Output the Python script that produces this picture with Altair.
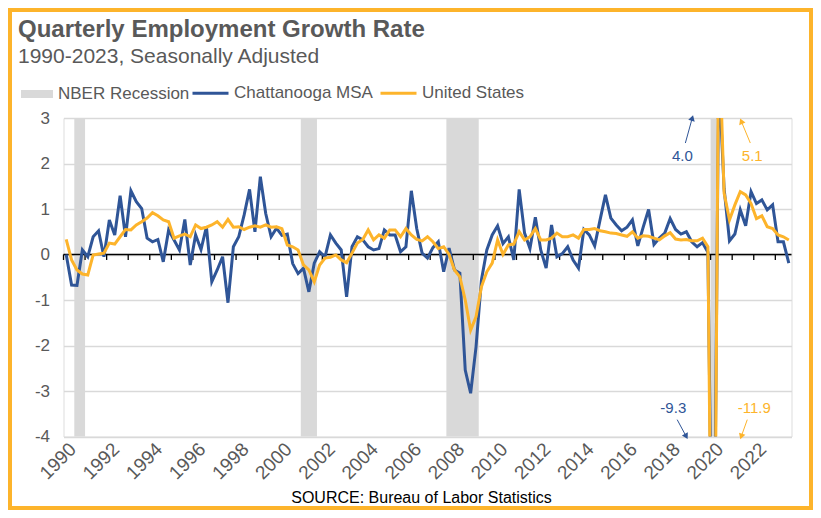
import altair as alt
import pandas as pd

# ---------------- data ----------------
first_quarter_start = 1990.25  # 1990Q2, quarterly series through 2023Q4

chattanooga = [
    0.00, -0.67, -0.68, 0.10, -0.05, 0.39, 0.52, -0.05, 0.76, 0.43,
    1.29, 0.39, 1.40, 1.16, 1.01, 0.36, 0.28, 0.33, -0.16, 0.54,
    0.32, 0.10, 0.77, -0.23, 0.43, 0.11, 0.61, -0.60, -0.34, -0.05,
    -1.06, 0.17, 0.39, 0.87, 1.43, 0.50, 1.71, 0.90, 0.39, 0.58,
    0.42, 0.45, -0.20, -0.42, -0.30, -0.82, -0.19, 0.06, -0.05, 0.43,
    0.25, 0.10, -0.93, 0.17, 0.39, 0.32, 0.17, 0.10, 0.13, 0.54,
    0.43, 0.43, 0.06, 0.17, 1.40, 0.57, 0.03, -0.08, 0.15, 0.28,
    -0.38, 0.14, -0.34, -0.41, -2.54, -3.05, -2.03, -0.56, 0.10, 0.43,
    0.63, 0.24, 0.39, -0.12, 1.43, 0.47, 0.13, 0.82, 0.10, -0.30,
    0.65, -0.05, 0.02, 0.17, -0.12, -0.30, 0.55, 0.43, 0.19, 0.76,
    1.31, 0.80, 0.65, 0.52, 0.60, 0.76, 0.19, 0.60, 0.99, 0.22,
    0.36, 0.47, 0.79, 0.55, 0.45, 0.50, 0.28, 0.17, 0.26, 0.05,
    -9.3, 4.0, 1.45, 0.30, 0.45, 0.98, 0.63, 1.38, 1.12, 1.20,
    0.98, 1.09, 0.28, 0.28, -0.19,
]

united_states = [
    0.33, -0.12, -0.34, -0.43, -0.45, -0.01, 0.01, 0.03, 0.25, 0.23,
    0.39, 0.55, 0.54, 0.65, 0.72, 0.80, 0.92, 0.85, 0.76, 0.72,
    0.36, 0.41, 0.45, 0.39, 0.65, 0.57, 0.60, 0.65, 0.72, 0.60,
    0.77, 0.60, 0.61, 0.55, 0.60, 0.63, 0.60, 0.65, 0.60, 0.61,
    0.57, 0.21, 0.17, 0.10, -0.23, -0.34, -0.60, -0.23, -0.08, -0.06,
    -0.01, -0.12, -0.18, 0.03, 0.25, 0.33, 0.54, 0.32, 0.43, 0.36,
    0.54, 0.54, 0.39, 0.57, 0.43, 0.33, 0.30, 0.39, 0.28, 0.13,
    0.17, 0.00, -0.34, -0.49, -1.00, -1.66, -1.37, -0.71, -0.38, -0.19,
    0.32, 0.00, 0.21, 0.23, 0.50, 0.32, 0.39, 0.57, 0.32, 0.32,
    0.36, 0.47, 0.39, 0.39, 0.43, 0.36, 0.55, 0.55, 0.57, 0.52,
    0.50, 0.47, 0.46, 0.43, 0.40, 0.50, 0.36, 0.41, 0.40, 0.36,
    0.32, 0.41, 0.48, 0.34, 0.32, 0.33, 0.30, 0.30, 0.36, 0.17,
    -11.9, 5.1, 1.35, 0.76, 1.09, 1.38, 1.31, 1.12, 0.79, 0.85,
    0.61, 0.57, 0.43, 0.39, 0.32,
]

recession_start = [1990.75, 2001.25, 2008.0, 2020.25]
recession_end = [1991.25, 2002.0, 2009.5, 2020.5]

label_years = list(range(1990, 2023, 2))
y_ticks = [-4, -3, -2, -1, 0, 1, 2, 3]

title_text = "Quarterly Employment Growth Rate"
subtitle_text = "1990-2023, Seasonally Adjusted"
source_text = "SOURCE: Bureau of Labor Statistics"

ann_text = ["4.0", "5.1", "-9.3", "-11.9"]
ann_t = [2018.94, 2022.18, 2018.52, 2022.27]
ann_v = [2.16, 2.16, -3.37, -3.37]
arrow_t1 = [2019.08, 2022.09, 2018.70, 2021.95]
arrow_v1 = [2.45, 2.45, -3.63, -3.63]
arrow_t2 = [2019.40, 2021.67, 2019.12, 2021.67]
arrow_v2 = [3.0, 2.93, -4.0, -4.0]

# ---------------- styles ----------------
BLUE = "#2F5597"
ORANGE = "#FDB42B"
GRAY = "#D9D9D9"
TXT = "#595959"
FONT = "Liberation Sans"

n = len(chattanooga)
t = [first_quarter_start + 0.25 * i + 0.125 for i in range(n)]
lines = pd.DataFrame({
    "t": t * 2,
    "value": chattanooga + united_states,
    "series": ["Chattanooga MSA"] * n + ["United States"] * n,
})
rec = pd.DataFrame({"start": recession_start, "end": recession_end,
                    "name": ["NBER Recession"] * len(recession_start)})
ticks = pd.DataFrame({"tick": [first_quarter_start + k for k in range(34)]})

W, H = 728, 318.5
xscale = alt.Scale(domain=[1990.25, 2024.0], nice=False, zero=False)
yscale = alt.Scale(domain=[-4, 3], nice=False, zero=False)

xaxis = alt.Axis(
    values=[y + 0.375 for y in label_years],
    labelExpr="floor(datum.value)",
    labelAngle=-45, labelAlign="right", labelBaseline="top",
    labelFontSize=19, labelColor=TXT, labelFont=FONT, labelPadding=3,
    labelOverlap=False,
    ticks=False, domain=False, grid=False,
    title=source_text,
    titleFont=FONT, titleFontSize=16, titleFontWeight="normal", titleColor="#000000",
    titleX=357.5, titleY=53, titleAlign="center", titleBaseline="top",
)
yaxis = alt.Axis(
    values=y_ticks, labelExpr="toString(datum.value)",
    grid=True, gridColor=GRAY, gridWidth=1.5,
    domain=False, ticks=False,
    labelFontSize=17, labelColor=TXT, labelFont=FONT, labelPadding=14,
    title=None,
)

rects = alt.Chart(rec).mark_rect(strokeWidth=0).encode(
    x=alt.X("start:Q", scale=xscale, axis=xaxis),
    x2="end:Q",
    y=alt.Y(datum=3, scale=yscale, axis=yaxis),
    y2=alt.datum(-4),
    fill=alt.Fill("name:N", scale=alt.Scale(domain=["NBER Recession"], range=[GRAY]),
                  legend=alt.Legend(
                      title=None, orient="none", legendX=-43.5, legendY=-41,
                      symbolType="M-1,-0.25H1V0.25H-1Z", symbolSize=1024,
                      labelFontSize=17, labelColor=TXT, labelFont=FONT, labelOffset=4,
                  )),
)

zero = alt.Chart(pd.DataFrame({"z": [0]})).mark_rule(color="#000000", strokeWidth=1.3).encode(
    y=alt.Y("z:Q", scale=yscale, axis=yaxis)
)
tickmarks = alt.Chart(ticks).mark_rule(color="#000000", strokeWidth=1.3).encode(
    x=alt.X("tick:Q", scale=xscale, axis=xaxis),
    y=alt.Y(datum=0, scale=yscale, axis=yaxis),
    y2=alt.datum(-0.12),
)

line = alt.Chart(lines).mark_line(strokeWidth=3, clip=True).encode(
    x=alt.X("t:Q", scale=xscale, axis=xaxis),
    y=alt.Y("value:Q", scale=yscale, axis=yaxis),
    color=alt.Color("series:N",
                    scale=alt.Scale(domain=["Chattanooga MSA", "United States"], range=[BLUE, ORANGE]),
                    legend=alt.Legend(
                        title=None, orient="none", direction="horizontal",
                        legendX=127.5, legendY=-44.5,
                        symbolType="stroke", symbolSize=1296, symbolStrokeWidth=3,
                        labelFontSize=17, labelColor=TXT, labelFont=FONT, labelOffset=4,
                        columnPadding=1,
                    )),
)

ann_layers = []
ann_colors = [BLUE, ORANGE, BLUE, ORANGE]
head_shapes = ["triangle-up", "triangle-up", "triangle-down", "triangle-down"]
head_angles = [16, 338, 332, 19]
for i in range(len(ann_text)):
    d = pd.DataFrame({"t": [ann_t[i]], "v": [ann_v[i]], "label": [ann_text[i]],
                      "t1": [arrow_t1[i]], "v1": [arrow_v1[i]],
                      "t2": [arrow_t2[i]], "v2": [arrow_v2[i]]})
    base = alt.Chart(d)
    ann_layers.append(base.mark_text(color=ann_colors[i], fontSize=15, font=FONT,
                                     align="center", baseline="middle").encode(
        x=alt.X("t:Q", scale=xscale, axis=xaxis), y=alt.Y("v:Q", scale=yscale, axis=yaxis),
        text="label:N"))
    ann_layers.append(base.mark_rule(color=ann_colors[i], strokeWidth=1).encode(
        x=alt.X("t1:Q", scale=xscale, axis=xaxis), y=alt.Y("v1:Q", scale=yscale, axis=yaxis),
        x2="t2:Q", y2="v2:Q"))
    ann_layers.append(base.mark_point(shape=head_shapes[i], angle=head_angles[i], size=45,
                                      filled=True, opacity=1, color=ann_colors[i]).encode(
        x=alt.X("t2:Q", scale=xscale, axis=xaxis), y=alt.Y("v2:Q", scale=yscale, axis=yaxis)))

heading = alt.Chart(pd.DataFrame({"title": [title_text], "subtitle": [subtitle_text]}))
title_mark = heading.mark_text(font=FONT, fontSize=24, fontWeight="bold", color=TXT,
                               align="left", baseline="alphabetic").encode(
    text="title:N", x=alt.value(-45.5), y=alt.value(-81))
subtitle_mark = heading.mark_text(font=FONT, fontSize=21, color=TXT,
                                  align="left", baseline="alphabetic").encode(
    text="subtitle:N", x=alt.value(-45.5), y=alt.value(-55))

frame = alt.Chart(pd.DataFrame({"f": [0]})).mark_rect(
    fillOpacity=0, stroke=ORANGE, strokeWidth=4, clip=False
).encode(x=alt.value(-53.5), x2=alt.value(747.5), y=alt.value(-108), y2=alt.value(390))

chart = alt.layer(rects, zero, tickmarks, line, *ann_layers, title_mark, subtitle_mark, frame).properties(
    width=W, height=H,
    autosize=alt.AutoSizeParams(type="none"),
    padding={"left": 55.5, "top": 110, "right": 21.5, "bottom": 73.5},
).configure_view(stroke=None).configure(background="white")

chart.save("out.html", embed_options={"renderer": "svg", "actions": False})
